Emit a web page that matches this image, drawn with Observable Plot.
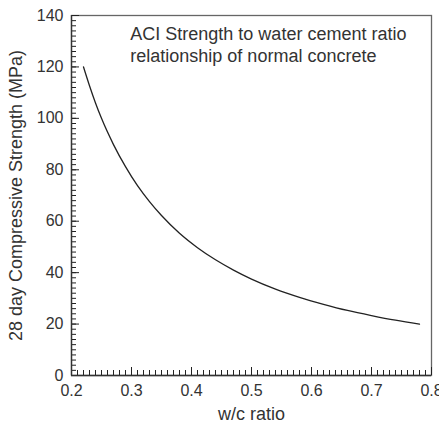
<!DOCTYPE html>
<html>
<head>
<meta charset="utf-8">
<script src="https://cdn.jsdelivr.net/npm/d3@7"></script>
<script src="https://cdn.jsdelivr.net/npm/@observablehq/plot@0.6"></script>
<style>
  body { margin: 0; background: #fff; }
</style>
</head>
<body>
<div id="chart"></div>
<script>
// w/c ratio vs 28 day compressive strength (MPa)
const wcRatio = [0.22, 0.23, 0.24, 0.25, 0.27, 0.29, 0.31, 0.33, 0.35, 0.38, 0.41, 0.44, 0.47, 0.50, 0.54, 0.58, 0.62, 0.66, 0.70, 0.74, 0.78];
const strength = [120, 112.7, 106, 100, 89.8, 81.2, 73.8, 67.6, 62.2, 55.3, 49.7, 45, 41, 37.5, 33.6, 30.4, 27.7, 25.3, 23.3, 21.5, 20];

const xTicks = [0.2, 0.3, 0.4, 0.5, 0.6, 0.7, 0.8];
const yTicks = [0, 20, 40, 60, 80, 100, 120, 140];
const xMinor = d3.range(0, 61).map(i => +(0.2 + i * 0.01).toFixed(2));
const yMinor = d3.range(0, 71).map(i => i * 2);

const titleLines = ["ACI Strength to water cement ratio", "relationship of normal concrete"];
const xLabel = "w/c ratio";
const yLabel = "28 day Compressive Strength (MPa)";

const data = wcRatio.map((x, i) => ({x, y: strength[i]}));
const ink = "#333";
const font = "'Liberation Sans', Arial, sans-serif";

const W = 439, H = 422, ML = 71, MR = 8, MT = 15, MB = 47;
const plotW = W - ML - MR, plotH = H - MT - MB;

const chart = Plot.plot({
  width: W,
  height: H,
  marginLeft: ML,
  marginRight: MR,
  marginTop: MT,
  marginBottom: MB,
  style: {fontFamily: font, fontSize: "16px", color: ink, background: "#fff"},
  x: {domain: [0.2, 0.8]},
  y: {domain: [0, 140]},
  marks: [
    Plot.frame({stroke: "#666", strokeWidth: 1.3}),
    // minor ticks (inward)
    Plot.tickX(xMinor, {x: d => d, insetTop: plotH - 5, stroke: "#222", strokeWidth: 1}),
    Plot.tickY(yMinor, {y: d => d, insetRight: plotW - 5, stroke: "#222", strokeWidth: 1}),
    // major ticks (inward)
    Plot.tickX(xTicks, {x: d => d, insetTop: plotH - 8, stroke: "#222", strokeWidth: 1}),
    Plot.tickY(yTicks, {y: d => d, insetRight: plotW - 8, stroke: "#222", strokeWidth: 1}),
    Plot.ruleX([0.2], {stroke: ink, strokeWidth: 1.3}),
    Plot.ruleY([0], {stroke: ink, strokeWidth: 1.3}),
    // tick labels and axis titles
    Plot.axisX(xTicks, {tickSize: 0, tickPadding: 9, fontSize: 16, tickFormat: d => String(d), label: xLabel, labelAnchor: "center", labelOffset: 44, labelArrow: "none"}),
    Plot.axisY(yTicks, {tickSize: 0, tickPadding: 8, fontSize: 16, tickFormat: d => String(d), label: yLabel, labelAnchor: "center", labelOffset: 62, labelArrow: "none"}),
    Plot.line(data, {x: "x", y: "y", curve: "monotone-x", stroke: "#222", strokeWidth: 1.3}),
    Plot.text(titleLines, {
      x: () => 0.298, y: (d, i) => 130.3 - i * 8.4,
      text: d => d, textAnchor: "start", lineAnchor: "bottom", fontSize: 18, fill: ink
    })
  ]
});

chart.querySelectorAll("g[aria-label='x-axis label'] text, g[aria-label='y-axis label'] text").forEach(t => t.setAttribute("font-size", 18));
chart.querySelectorAll("g[aria-label='x-axis tick label'], g[aria-label='y-axis tick label']").forEach(g => g.setAttribute("font-size", 16));
document.getElementById("chart").appendChild(chart);
</script>
</body>
</html>
